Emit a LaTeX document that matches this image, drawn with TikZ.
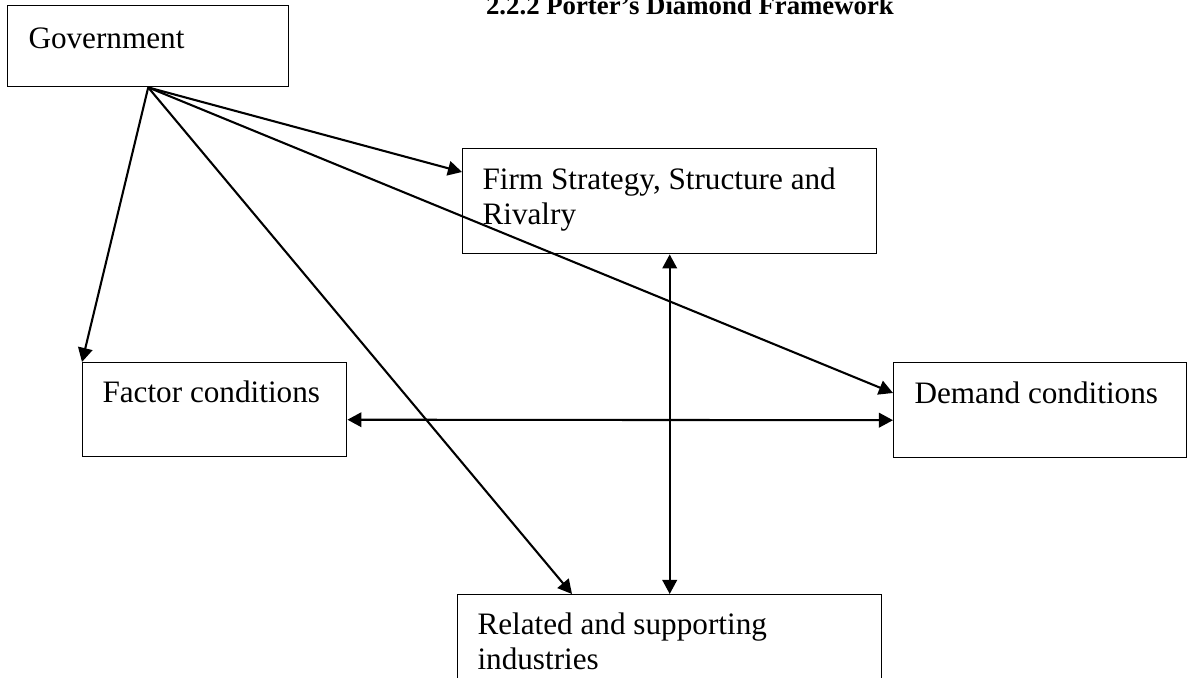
\documentclass[tikz,border=0pt]{standalone}
\usepackage{fontspec}
\setmainfont{Liberation Serif}
\usetikzlibrary{arrows.meta,calc,positioning}
\def\pxu{0.3846pt}

\begin{document}
\begin{tikzpicture}[
    x=\pxu, y=-\pxu,
    box/.style={
        draw,
        line width=0.55pt,
        anchor=north west,
        inner sep=0pt
    },
    txt/.style={
        anchor=north west,
        inner sep=0pt,
        align=left,
        xshift=20*\pxu,
        yshift=-18*\pxu,
        font=\fontsize{12}{13.5}\selectfont
    },
    tip/.style={Triangle[length=5.4pt,width=5.6pt]},
    arrow/.style={-{Triangle[length=5.4pt,width=5.6pt]},line width=0.8pt},
    twoway/.style={{Triangle[length=5.4pt,width=5.6pt]}-{Triangle[length=5.4pt,width=5.6pt]},line width=0.8pt}
]
    \clip (0,0) rectangle (1188,678);
    \useasboundingbox (0,0) rectangle (1188,678);

    % Title
    \node[anchor=base, inner sep=0pt, font=\bfseries\fontsize{10.3}{12}\selectfont] (title) at (690,15) {2.2.2 Porter’s Diamond Framework};

    % Boxes
    \node[box, minimum width=281*\pxu, minimum height=81*\pxu,
        label={[txt, xshift=1*\pxu, yshift=-4*\pxu]north west:Government}] (gov) at (7,5) {};
    \node[box, minimum width=414*\pxu, minimum height=105*\pxu,
        label={[txt, yshift=-1*\pxu]north west:{Firm Strategy, Structure and\\Rivalry}}] (firm) at (462,148) {};
    \node[box, minimum width=264*\pxu, minimum height=94*\pxu,
        label={[txt]north west:Factor conditions}] (fac) at (82,362) {};
    \node[box, minimum width=293*\pxu, minimum height=95*\pxu,
        label={[txt, xshift=1*\pxu, yshift=-1*\pxu]north west:Demand conditions}] (dem) at (893,362) {};
    \node[box, minimum width=424*\pxu, minimum height=120*\pxu,
        label={[txt]north west:{Related and supporting\\industries}}] (rel) at (457,594) {};

    % Arrows
    \draw[arrow] (gov.south) -- (fac.north west);
    \draw[arrow] (gov.south) -- ($(firm.north west)+(0,24)$);
    \draw[arrow] (gov.south) -- ($(dem.north west)+(0,31)$);
    \draw[arrow] (gov.south) -- ($(rel.north west)+(115,0)$);
    \draw[twoway] (firm.south) -- (firm.south |- rel.north);
    \draw[twoway] ($(fac.east)+(0,10)$) -- ($(dem.west)+(0,10)$);
\end{tikzpicture}
\end{document}
